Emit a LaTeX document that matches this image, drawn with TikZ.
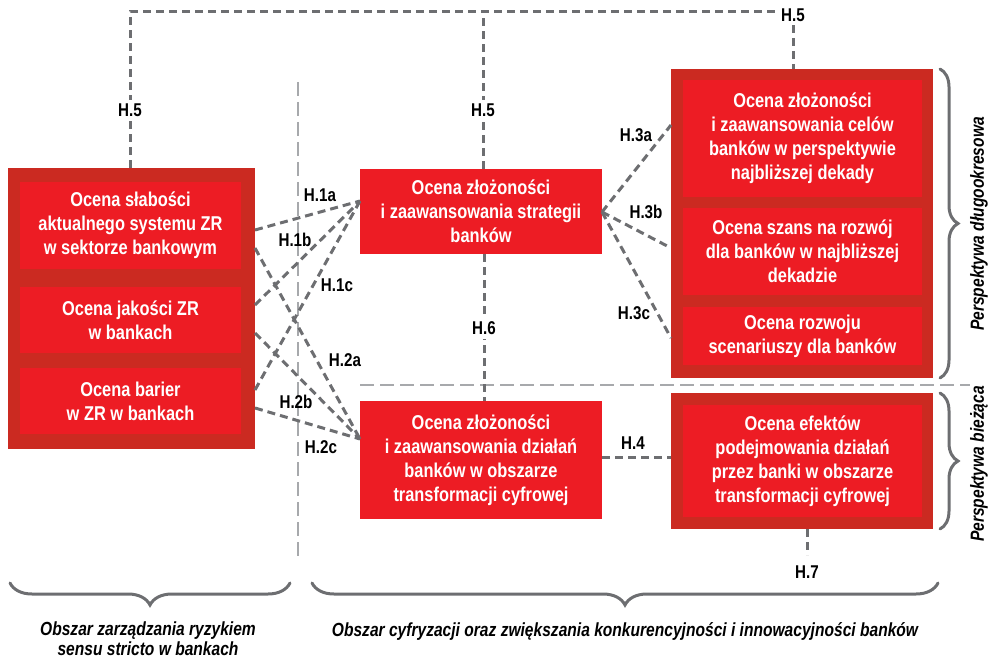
\documentclass[tikz,border=0pt]{standalone}
\usepackage{fontspec}
\setmainfont{Liberation Sans}[FakeStretch=0.82]
\usetikzlibrary{decorations.pathreplacing,calc}
\definecolor{outerred}{HTML}{CB2A21}
\definecolor{innerred}{HTML}{ED1C24}
\definecolor{linegray}{HTML}{6D6E71}
\definecolor{divgray}{HTML}{A7A9AC}
\newcommand\bxfont{\fontsize{20}{24}\selectfont\bfseries}
\newcommand\lbfont{\fontsize{18.5}{20}\selectfont\bfseries}
\newcommand\itfont{\fontsize{19}{20}\selectfont\bfseries\itshape}
\begin{document}
\begin{tikzpicture}[x=1pt,y=-1pt,
  outerbox/.style={fill=outerred, draw=none, inner sep=0pt},
  innerbox/.style={fill=innerred, draw=none, text=white, font=\bxfont, align=center, inner sep=0pt},
  conn/.style={draw=linegray, line width=3pt, dash pattern=on 8pt off 5pt},
  divider/.style={draw=divgray, line width=1.5pt, dash pattern=on 14pt off 6pt},
  lab/.style={font=\lbfont, text=black, inner sep=2pt},
  wlab/.style={font=\lbfont, text=black, fill=white, inner sep=4pt},
  brc/.style={draw=linegray, line width=3pt, line cap=round, decorate, decoration={brace, amplitude=#1}},
  sidetext/.style={font=\itfont, text=black, align=center}
]
\useasboundingbox (0,0) rectangle (995,660);

% dividers
\coordinate (vt) at (298,82);
\coordinate (vb) at (298,560);
\coordinate (hl) at (360,385);
\coordinate (hr) at (970,385);
\draw[divider] (vt) -- (vb);
\draw[divider] (hl) -- (hr);

% boxes
\node[outerbox, minimum width=247pt, minimum height=281pt] (Lout) at (131.5,308.5) {};
\node[innerbox, minimum width=221pt, minimum height=87pt] (L1) at (130.5,225.5) {Ocena słabości\\aktualnego systemu ZR\\w sektorze bankowym};
\node[innerbox, minimum width=221pt, minimum height=66pt] (L2) at (130.5,320) {Ocena jakości ZR\\w bankach};
\node[innerbox, minimum width=221pt, minimum height=66pt] (L3) at (130.5,401) {Ocena barier\\w ZR w bankach};

\node[innerbox, minimum width=242pt, minimum height=85pt] (S) at (481,211.5) {Ocena złożoności\\i zaawansowania strategii\\banków};
\node[innerbox, minimum width=242pt, minimum height=118pt] (D) at (481,460) {Ocena złożoności\\i zaawansowania działań\\banków w obszarze\\transformacji cyfrowej};

\node[outerbox, minimum width=262pt, minimum height=309pt] (Rout) at (802,223.5) {};
\node[innerbox, minimum width=239pt, minimum height=117pt] (R1) at (802.5,138.5) {Ocena złożoności\\i zaawansowania celów\\banków w perspektywie\\najbliższej dekady};
\node[innerbox, minimum width=239pt, minimum height=87pt] (R2) at (802.5,251.5) {Ocena szans na rozwój\\dla banków w najbliższej\\dekadzie};
\node[innerbox, minimum width=239pt, minimum height=58pt] (R3) at (802.5,336) {Ocena rozwoju\\scenariuszy dla banków};
\node[outerbox, minimum width=262pt, minimum height=136pt] (Rout2) at (802,461) {};
\node[innerbox, minimum width=239pt, minimum height=112pt] (R4) at (802.5,461) {Ocena efektów\\podejmowania działań\\przez banki w obszarze\\transformacji cyfrowej};

% connector end points
\coordinate (a1) at (255,230);
\coordinate (b1) at (255,248);
\coordinate (a2) at (255,305);
\coordinate (b2) at (255,333);
\coordinate (a3) at (255,390);
\coordinate (b3) at (255,408);
\coordinate (sin) at (360,201);
\coordinate (din) at (360,439);
\coordinate (sout) at (602,212);
\coordinate (r1) at (671,125);
\coordinate (r2) at (671,248);
\coordinate (r3) at (671,338);
\coordinate (d4) at (602,457);
\coordinate (r4) at (671,457);
\coordinate (s6) at (484,254);
\coordinate (d6) at (484,401);
\coordinate (t5) at (793,12);
\coordinate (rt) at (793,69);
\coordinate (l5) at (130,168);
\coordinate (m5) at (483,169);
\coordinate (rb) at (807,529);
\coordinate (h7) at (807,555);

% connectors
\draw[conn] (a1) -- (sin);
\draw[conn] (a2) -- (sin);
\draw[conn] (a3) -- (sin);
\draw[conn] (b1) -- (din);
\draw[conn] (b2) -- (din);
\draw[conn] (b3) -- (din);
\draw[conn] (sout) -- (r1);
\draw[conn] (sout) -- (r2);
\draw[conn] (sout) -- (r3);
\draw[conn] (d4) -- (r4);
\draw[conn] (s6) -- (d6);
\draw[conn] (l5) |- (t5) -- (rt);
\draw[conn] (m5) -- (m5 |- t5);
\draw[conn] (rb) -- (h7);

% labels
\node[lab] (h1a) at (320,195) {H.1a};
\node[lab] (h1b) at (295,240) {H.1b};
\node[lab] (h1c) at (337,285) {H.1c};
\node[lab] (h2a) at (345,360) {H.2a};
\node[lab] (h2b) at (296,402) {H.2b};
\node[lab] (h2c) at (321,447) {H.2c};
\node[lab] (h3a) at (636,135) {H.3a};
\node[lab] (h3b) at (646,212) {H.3b};
\node[lab] (h3c) at (634,313) {H.3c};
\node[lab] (h4) at (633,443) {H.4};
\node[wlab] (h5l) at (130,110) {H.5};
\node[wlab] (h5m) at (483,110) {H.5};
\node[wlab] (h5r) at (793,15) {H.5};
\node[wlab] (h6) at (484,328) {H.6};
\node[lab] (h7l) at (807,572) {H.7};

% braces
\coordinate (bra) at (940,69);
\coordinate (brb) at (940,378);
\coordinate (brc) at (940,393);
\coordinate (brd) at (940,529);
\draw[brc=18pt] (bra) -- (brb);
\draw[brc=18pt] (brc) -- (brd);
\coordinate (bla) at (290,583);
\coordinate (blb) at (10,583);
\coordinate (bma) at (938,583);
\coordinate (bmb) at (312,583);
\draw[brc=22pt] (bla) -- (blb);
\draw[brc=22pt] (bma) -- (bmb);

% side texts
\node[sidetext, rotate=90] (pd) at (979,224) {Perspektywa długookresowa};
\node[sidetext, rotate=90] (pb) at (979,464) {Perspektywa bieżąca};
\node[sidetext] (oz) at (148,639) {Obszar zarządzania ryzykiem\\sensu stricto w bankach};
\node[sidetext] (oc) at (625,631) {Obszar cyfryzacji oraz zwiększania konkurencyjności i innowacyjności banków};
\end{tikzpicture}
\end{document}
